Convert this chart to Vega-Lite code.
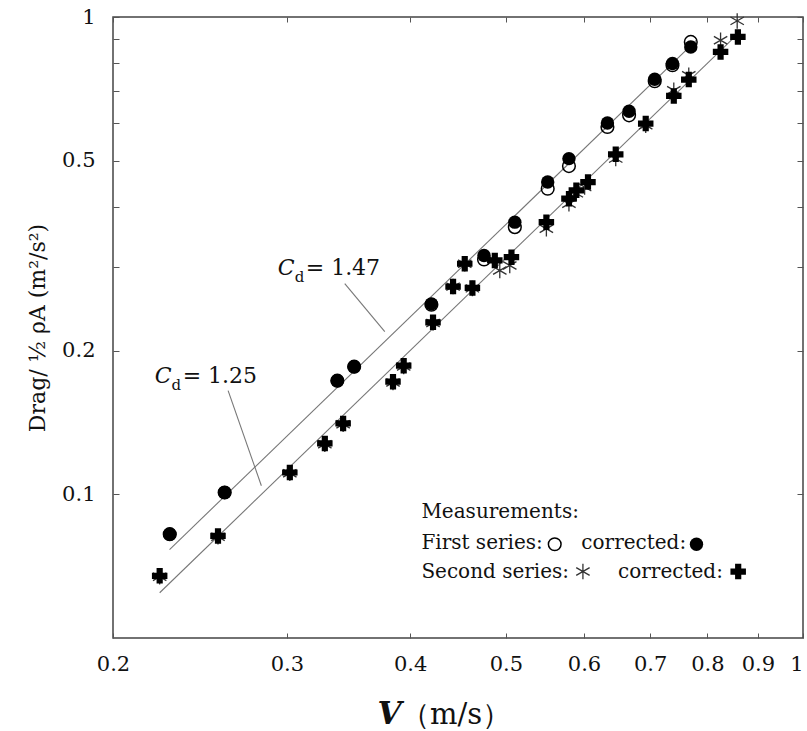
{
  "$schema": "https://vega.github.io/schema/vega-lite/v6.json",
  "width": 690,
  "height": 621,
  "autosize": {"type": "none"},
  "padding": {"left": 113, "top": 17, "right": 4, "bottom": 93},
  "background": "white",
  "config": {
    "font": "DejaVu Serif",
    "view": {"stroke": "#444", "strokeWidth": 1.5},
    "axis": {"grid": false, "domain": false, "tickColor": "#555", "tickWidth": 1, "labelColor": "#111", "labelFont": "DejaVu Serif", "labelFontSize": 21, "titleFont": "DejaVu Serif", "titleColor": "#111"}
  },
  "datasets": {
    "lines": [
      {"line": "Cd 1.47", "V": 0.2282, "D": 0.0766},
      {"line": "Cd 1.47", "V": 0.78, "D": 0.8943},
      {"line": "Cd 1.25", "V": 0.223, "D": 0.0622},
      {"line": "Cd 1.25", "V": 0.86, "D": 0.9245},
      {"line": "leader 1.47", "V": 0.3434, "D": 0.2764},
      {"line": "leader 1.47", "V": 0.377, "D": 0.2192},
      {"line": "leader 1.25", "V": 0.2616, "D": 0.1649},
      {"line": "leader 1.25", "V": 0.2827, "D": 0.1042}
    ],
    "pts": [
      {"series": "open", "V": 0.2283, "D": 0.0825},
      {"series": "open", "V": 0.2595, "D": 0.1009},
      {"series": "open", "V": 0.3375, "D": 0.173},
      {"series": "open", "V": 0.351, "D": 0.1851},
      {"series": "open", "V": 0.4203, "D": 0.2495},
      {"series": "open", "V": 0.4752, "D": 0.3104},
      {"series": "open", "V": 0.5106, "D": 0.3628},
      {"series": "open", "V": 0.5513, "D": 0.4368},
      {"series": "open", "V": 0.5793, "D": 0.4872},
      {"series": "open", "V": 0.6337, "D": 0.5883},
      {"series": "open", "V": 0.6665, "D": 0.6223},
      {"series": "open", "V": 0.7076, "D": 0.7334},
      {"series": "open", "V": 0.7375, "D": 0.7923},
      {"series": "open", "V": 0.7697, "D": 0.8867},
      {"series": "open", "V": 0.5604, "D": 0.0786},
      {"series": "filled", "V": 0.2283, "D": 0.0825},
      {"series": "filled", "V": 0.2595, "D": 0.1009},
      {"series": "filled", "V": 0.3375, "D": 0.173},
      {"series": "filled", "V": 0.351, "D": 0.1851},
      {"series": "filled", "V": 0.4203, "D": 0.2506},
      {"series": "filled", "V": 0.4752, "D": 0.3165},
      {"series": "filled", "V": 0.5106, "D": 0.3717},
      {"series": "filled", "V": 0.5513, "D": 0.451},
      {"series": "filled", "V": 0.5793, "D": 0.505},
      {"series": "filled", "V": 0.6337, "D": 0.5997},
      {"series": "filled", "V": 0.6665, "D": 0.6346},
      {"series": "filled", "V": 0.7076, "D": 0.7405},
      {"series": "filled", "V": 0.7375, "D": 0.7989},
      {"series": "filled", "V": 0.7697, "D": 0.8655},
      {"series": "filled", "V": 0.78, "D": 0.0786},
      {"series": "aster", "V": 0.223, "D": 0.0672},
      {"series": "aster", "V": 0.2555, "D": 0.0815},
      {"series": "aster", "V": 0.3021, "D": 0.1107},
      {"series": "aster", "V": 0.3278, "D": 0.1273},
      {"series": "aster", "V": 0.3421, "D": 0.1402},
      {"series": "aster", "V": 0.3843, "D": 0.1715},
      {"series": "aster", "V": 0.394, "D": 0.1853},
      {"series": "aster", "V": 0.4219, "D": 0.2285},
      {"series": "aster", "V": 0.4421, "D": 0.2724},
      {"series": "aster", "V": 0.4543, "D": 0.3041},
      {"series": "aster", "V": 0.4625, "D": 0.27},
      {"series": "aster", "V": 0.493, "D": 0.2944},
      {"series": "aster", "V": 0.5046, "D": 0.3016},
      {"series": "aster", "V": 0.5496, "D": 0.36},
      {"series": "aster", "V": 0.5793, "D": 0.4063},
      {"series": "aster", "V": 0.5894, "D": 0.427},
      {"series": "aster", "V": 0.6009, "D": 0.4402},
      {"series": "aster", "V": 0.6461, "D": 0.505},
      {"series": "aster", "V": 0.6929, "D": 0.5931},
      {"series": "aster", "V": 0.7398, "D": 0.7023},
      {"series": "aster", "V": 0.7661, "D": 0.755},
      {"series": "aster", "V": 0.8251, "D": 0.894},
      {"series": "aster", "V": 0.8577, "D": 0.9813},
      {"series": "aster", "V": 0.5985, "D": 0.0689},
      {"series": "cross", "V": 0.223, "D": 0.0675},
      {"series": "cross", "V": 0.2555, "D": 0.0818},
      {"series": "cross", "V": 0.3021, "D": 0.1111},
      {"series": "cross", "V": 0.3278, "D": 0.1278},
      {"series": "cross", "V": 0.3421, "D": 0.1408},
      {"series": "cross", "V": 0.3843, "D": 0.1722},
      {"series": "cross", "V": 0.394, "D": 0.186},
      {"series": "cross", "V": 0.4219, "D": 0.2293},
      {"series": "cross", "V": 0.4421, "D": 0.2724},
      {"series": "cross", "V": 0.4543, "D": 0.3041},
      {"series": "cross", "V": 0.4625, "D": 0.2707},
      {"series": "cross", "V": 0.4873, "D": 0.309},
      {"series": "cross", "V": 0.5066, "D": 0.3139},
      {"series": "cross", "V": 0.5496, "D": 0.3717},
      {"series": "cross", "V": 0.5793, "D": 0.4163},
      {"series": "cross", "V": 0.5894, "D": 0.4333},
      {"series": "cross", "V": 0.6056, "D": 0.451},
      {"series": "cross", "V": 0.6461, "D": 0.5156},
      {"series": "cross", "V": 0.6929, "D": 0.598},
      {"series": "cross", "V": 0.7398, "D": 0.6832},
      {"series": "cross", "V": 0.7661, "D": 0.7394},
      {"series": "cross", "V": 0.8251, "D": 0.8449},
      {"series": "cross", "V": 0.8591, "D": 0.9084},
      {"series": "cross", "V": 0.8597, "D": 0.0689}
    ],
    "texts": [
      {"style": "annot", "text": "= 1.47", "V": 0.3135, "D": 0.2887},
      {"style": "annot", "text": "= 1.25", "V": 0.2353, "D": 0.1714},
      {"style": "legend", "text": "Measurements:", "V": 0.4106, "D": 0.0894},
      {"style": "legend", "text": "First series:", "V": 0.4106, "D": 0.0769},
      {"style": "legend", "text": "corrected:", "V": 0.5963, "D": 0.0769},
      {"style": "legend", "text": "Second series:", "V": 0.4106, "D": 0.0669},
      {"style": "legend", "text": "corrected:", "V": 0.6496, "D": 0.0669},
      {"style": "italic", "text": "C", "V": 0.2937, "D": 0.2887},
      {"style": "italic", "text": "C", "V": 0.2204, "D": 0.1714},
      {"style": "sub", "text": "d", "V": 0.3056, "D": 0.2791},
      {"style": "sub", "text": "d", "V": 0.2293, "D": 0.1657},
      {"style": "xtitleV", "text": "V", "V": 0.3707, "D": 0.03302},
      {"style": "xtitleU", "text": "（m/s）", "V": 0.3915, "D": 0.03302}
    ]
  },
  "resolve": {"axis": {"x": "independent", "y": "independent"}},
  "layer": [
    {
      "data": {"name": "lines"},
      "mark": {"type": "line", "color": "#777", "strokeWidth": 1.1},
      "encoding": {
        "x": {"field": "V", "type": "quantitative", "scale": {"type": "log", "domain": [0.2, 1], "nice": false},
              "axis": {"orient": "bottom", "values": [0.2, 0.3, 0.4, 0.5, 0.6, 0.7, 0.8, 0.9, 1], "format": ".1~f", "tickSize": -5, "labelPadding": 20, "title": null, "labelFlush": false, "labelOverlap": false,
                       "labelAlign": {"condition": {"test": "datum.value == 1", "value": "right"}, "value": "center"}}},
        "y": {"field": "D", "type": "quantitative", "scale": {"type": "log", "domain": [0.05, 1], "nice": false},
              "axis": {"orient": "left", "values": [0.1, 0.2, 0.3, 0.4, 0.5, 0.6, 0.7, 0.8, 0.9, 1], "format": ".1~f", "labelExpr": "(datum.value == 1 || datum.value == 0.5 || datum.value == 0.2 || datum.value == 0.1) ? datum.label : ''", "tickSize": -6, "labelPadding": 24, "labelFlush": false, "labelOverlap": false, "title": "Drag/ ½ ρA    (m²/s²)", "titleFontSize": 22, "titleFontWeight": "normal", "titlePadding": 12}},
        "detail": {"field": "line"}
      }
    },
    {
      "data": {"name": "pts"},
      "transform": [{"filter": "datum.series == 'aster'"}],
      "mark": {"type": "point", "shape": "M0,-1L0,1M-0.866,-0.5L0.866,0.5M-0.866,0.5L0.866,-0.5", "filled": false, "stroke": "#333", "strokeWidth": 1.3, "size": 240, "opacity": 1},
      "encoding": {
        "x": {"field": "V", "type": "quantitative", "scale": {"type": "log", "domain": [0.2, 1], "nice": false},
              "axis": {"orient": "top", "values": [0.2, 0.3, 0.4, 0.5, 0.6, 0.7, 0.8, 0.9, 1], "tickSize": -5, "labels": false, "title": null}},
        "y": {"field": "D", "type": "quantitative", "scale": {"type": "log", "domain": [0.05, 1], "nice": false},
              "axis": {"orient": "right", "values": [0.1, 0.2, 0.3, 0.4, 0.5, 0.6, 0.7, 0.8, 0.9, 1], "tickSize": -6, "labels": false, "title": null}}
      }
    },
    {
      "data": {"name": "pts"},
      "transform": [{"filter": "datum.series == 'cross'"}],
      "mark": {"type": "point", "shape": "cross", "filled": true, "color": "black", "size": 240, "opacity": 1},
      "encoding": {
        "x": {"field": "V", "type": "quantitative", "scale": {"type": "log", "domain": [0.2, 1], "nice": false}, "axis": null},
        "y": {"field": "D", "type": "quantitative", "scale": {"type": "log", "domain": [0.05, 1], "nice": false}, "axis": null}
      }
    },
    {
      "data": {"name": "pts"},
      "transform": [{"filter": "datum.series == 'open'"}],
      "mark": {"type": "point", "shape": "circle", "filled": false, "stroke": "black", "strokeWidth": 1.5, "size": 160, "opacity": 1},
      "encoding": {
        "x": {"field": "V", "type": "quantitative", "scale": {"type": "log", "domain": [0.2, 1], "nice": false}, "axis": null},
        "y": {"field": "D", "type": "quantitative", "scale": {"type": "log", "domain": [0.05, 1], "nice": false}, "axis": null}
      }
    },
    {
      "data": {"name": "pts"},
      "transform": [{"filter": "datum.series == 'filled'"}],
      "mark": {"type": "point", "shape": "circle", "filled": true, "color": "black", "size": 180, "opacity": 1},
      "encoding": {
        "x": {"field": "V", "type": "quantitative", "scale": {"type": "log", "domain": [0.2, 1], "nice": false}, "axis": null},
        "y": {"field": "D", "type": "quantitative", "scale": {"type": "log", "domain": [0.05, 1], "nice": false}, "axis": null}
      }
    },
    {
      "data": {"name": "texts"},
      "transform": [{"filter": "datum.style == 'legend'"}],
      "mark": {"type": "text", "align": "left", "baseline": "alphabetic", "fontSize": 20, "color": "#111", "font": "DejaVu Serif"},
      "encoding": {
        "x": {"field": "V", "type": "quantitative", "scale": {"type": "log", "domain": [0.2, 1], "nice": false}, "axis": null},
        "y": {"field": "D", "type": "quantitative", "scale": {"type": "log", "domain": [0.05, 1], "nice": false}, "axis": null},
        "text": {"field": "text"}
      }
    },
    {
      "data": {"name": "texts"},
      "transform": [{"filter": "datum.style == 'annot'"}],
      "mark": {"type": "text", "align": "left", "baseline": "alphabetic", "fontSize": 22, "color": "#111", "font": "DejaVu Serif"},
      "encoding": {
        "x": {"field": "V", "type": "quantitative", "scale": {"type": "log", "domain": [0.2, 1], "nice": false}, "axis": null},
        "y": {"field": "D", "type": "quantitative", "scale": {"type": "log", "domain": [0.05, 1], "nice": false}, "axis": null},
        "text": {"field": "text"}
      }
    },
    {
      "data": {"name": "texts"},
      "transform": [{"filter": "datum.style == 'italic'"}],
      "mark": {"type": "text", "align": "left", "baseline": "alphabetic", "fontSize": 22, "fontStyle": "italic", "color": "#111", "font": "DejaVu Serif"},
      "encoding": {
        "x": {"field": "V", "type": "quantitative", "scale": {"type": "log", "domain": [0.2, 1], "nice": false}, "axis": null},
        "y": {"field": "D", "type": "quantitative", "scale": {"type": "log", "domain": [0.05, 1], "nice": false}, "axis": null},
        "text": {"field": "text"}
      }
    },
    {
      "data": {"name": "texts"},
      "transform": [{"filter": "datum.style == 'sub'"}],
      "mark": {"type": "text", "align": "left", "baseline": "alphabetic", "fontSize": 15, "color": "#111", "font": "DejaVu Serif"},
      "encoding": {
        "x": {"field": "V", "type": "quantitative", "scale": {"type": "log", "domain": [0.2, 1], "nice": false}, "axis": null},
        "y": {"field": "D", "type": "quantitative", "scale": {"type": "log", "domain": [0.05, 1], "nice": false}, "axis": null},
        "text": {"field": "text"}
      }
    },
    {
      "data": {"name": "texts"},
      "transform": [{"filter": "datum.style == 'xtitleV'"}],
      "mark": {"type": "text", "align": "left", "baseline": "alphabetic", "fontSize": 31, "fontStyle": "italic", "fontWeight": "bold", "color": "#111", "font": "DejaVu Serif"},
      "encoding": {
        "x": {"field": "V", "type": "quantitative", "scale": {"type": "log", "domain": [0.2, 1], "nice": false}, "axis": null},
        "y": {"field": "D", "type": "quantitative", "scale": {"type": "log", "domain": [0.05, 1], "nice": false}, "axis": null},
        "text": {"field": "text"}
      }
    },
    {
      "data": {"name": "texts"},
      "transform": [{"filter": "datum.style == 'xtitleU'"}],
      "mark": {"type": "text", "align": "left", "baseline": "alphabetic", "fontSize": 29, "color": "#111", "font": "DejaVu Serif"},
      "encoding": {
        "x": {"field": "V", "type": "quantitative", "scale": {"type": "log", "domain": [0.2, 1], "nice": false}, "axis": null},
        "y": {"field": "D", "type": "quantitative", "scale": {"type": "log", "domain": [0.05, 1], "nice": false}, "axis": null},
        "text": {"field": "text"}
      }
    }
  ]
}
